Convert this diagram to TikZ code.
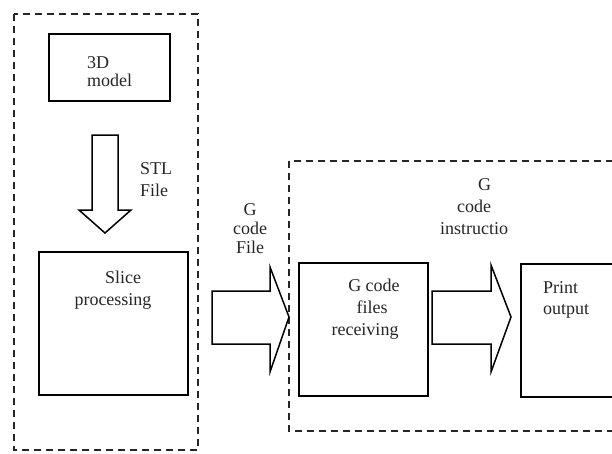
\documentclass[tikz,border=0pt]{standalone}
\usepackage{fontspec}
\setmainfont{Liberation Serif}
\begin{document}
\begin{tikzpicture}[x=1pt,y=-1pt,
  box/.style={draw,line width=1.5pt},
  group/.style={draw,line width=1.7pt,dash pattern=on 7pt off 5pt,black!85},
  blockarrow/.style={draw,line width=1.5pt,line join=miter,fill=white},
  txt/.style={inner sep=0pt,font=\fontsize{18}{22}\selectfont,text=black!85}
]
\useasboundingbox (0,0) rectangle (612,453);
\clip (0,0) rectangle (612,453);
% dashed groups
\draw[group] (14,14) coordinate (grpA) rectangle (198,450);
\draw[group] (289,161) coordinate (grpB) rectangle (625,431);
% boxes
\draw[box] (49,34) coordinate (model) rectangle (170,101);
\draw[box] (39,252) coordinate (slice) rectangle (188,395);
\draw[box] (299,263) coordinate (recv) rectangle (428,396);
\draw[box] (521,264) coordinate (print) rectangle (630,397);
% block arrows
\draw[blockarrow] (92,135) -- (118,135) -- (118,210) -- (131,210) -- (105,233) -- (79,210) -- (92,210) -- cycle;
\draw[blockarrow] (212,291) -- (270,291) -- (270,267) -- (289,317) -- (270,372) -- (270,344) -- (212,344) -- cycle;
\draw[blockarrow] (432,291) -- (491,291) -- (491,265) -- (511,317) -- (491,372) -- (491,344) -- (432,344) -- cycle;
% texts
\node[txt,anchor=north west,align=left,font=\fontsize{18}{18}\selectfont] (t3d) at (87,56) {3D\\model};
\node[txt,anchor=north west,align=left] (tstl) at (140,162) {STL\\File};
\node[txt,anchor=north,align=center] (tslice) at (113,271) {\hspace*{20pt}Slice\\processing};
\node[txt,anchor=north,align=center,font=\fontsize{18}{19}\selectfont] (tgf) at (250,203) {G\\code\\File};
\node[txt,anchor=north,align=center] (tgi) at (474,178) {\hspace*{21pt}G\\code\\instructio};
\node[txt,anchor=north,align=center] (tgr) at (365,279) {\hspace*{18pt}G code\\\hspace*{14pt}files\\receiving};
\node[txt,anchor=north west,align=left,font=\fontsize{18}{21}\selectfont] (tpo) at (543,281) {Print\\output};
\end{tikzpicture}
\end{document}
